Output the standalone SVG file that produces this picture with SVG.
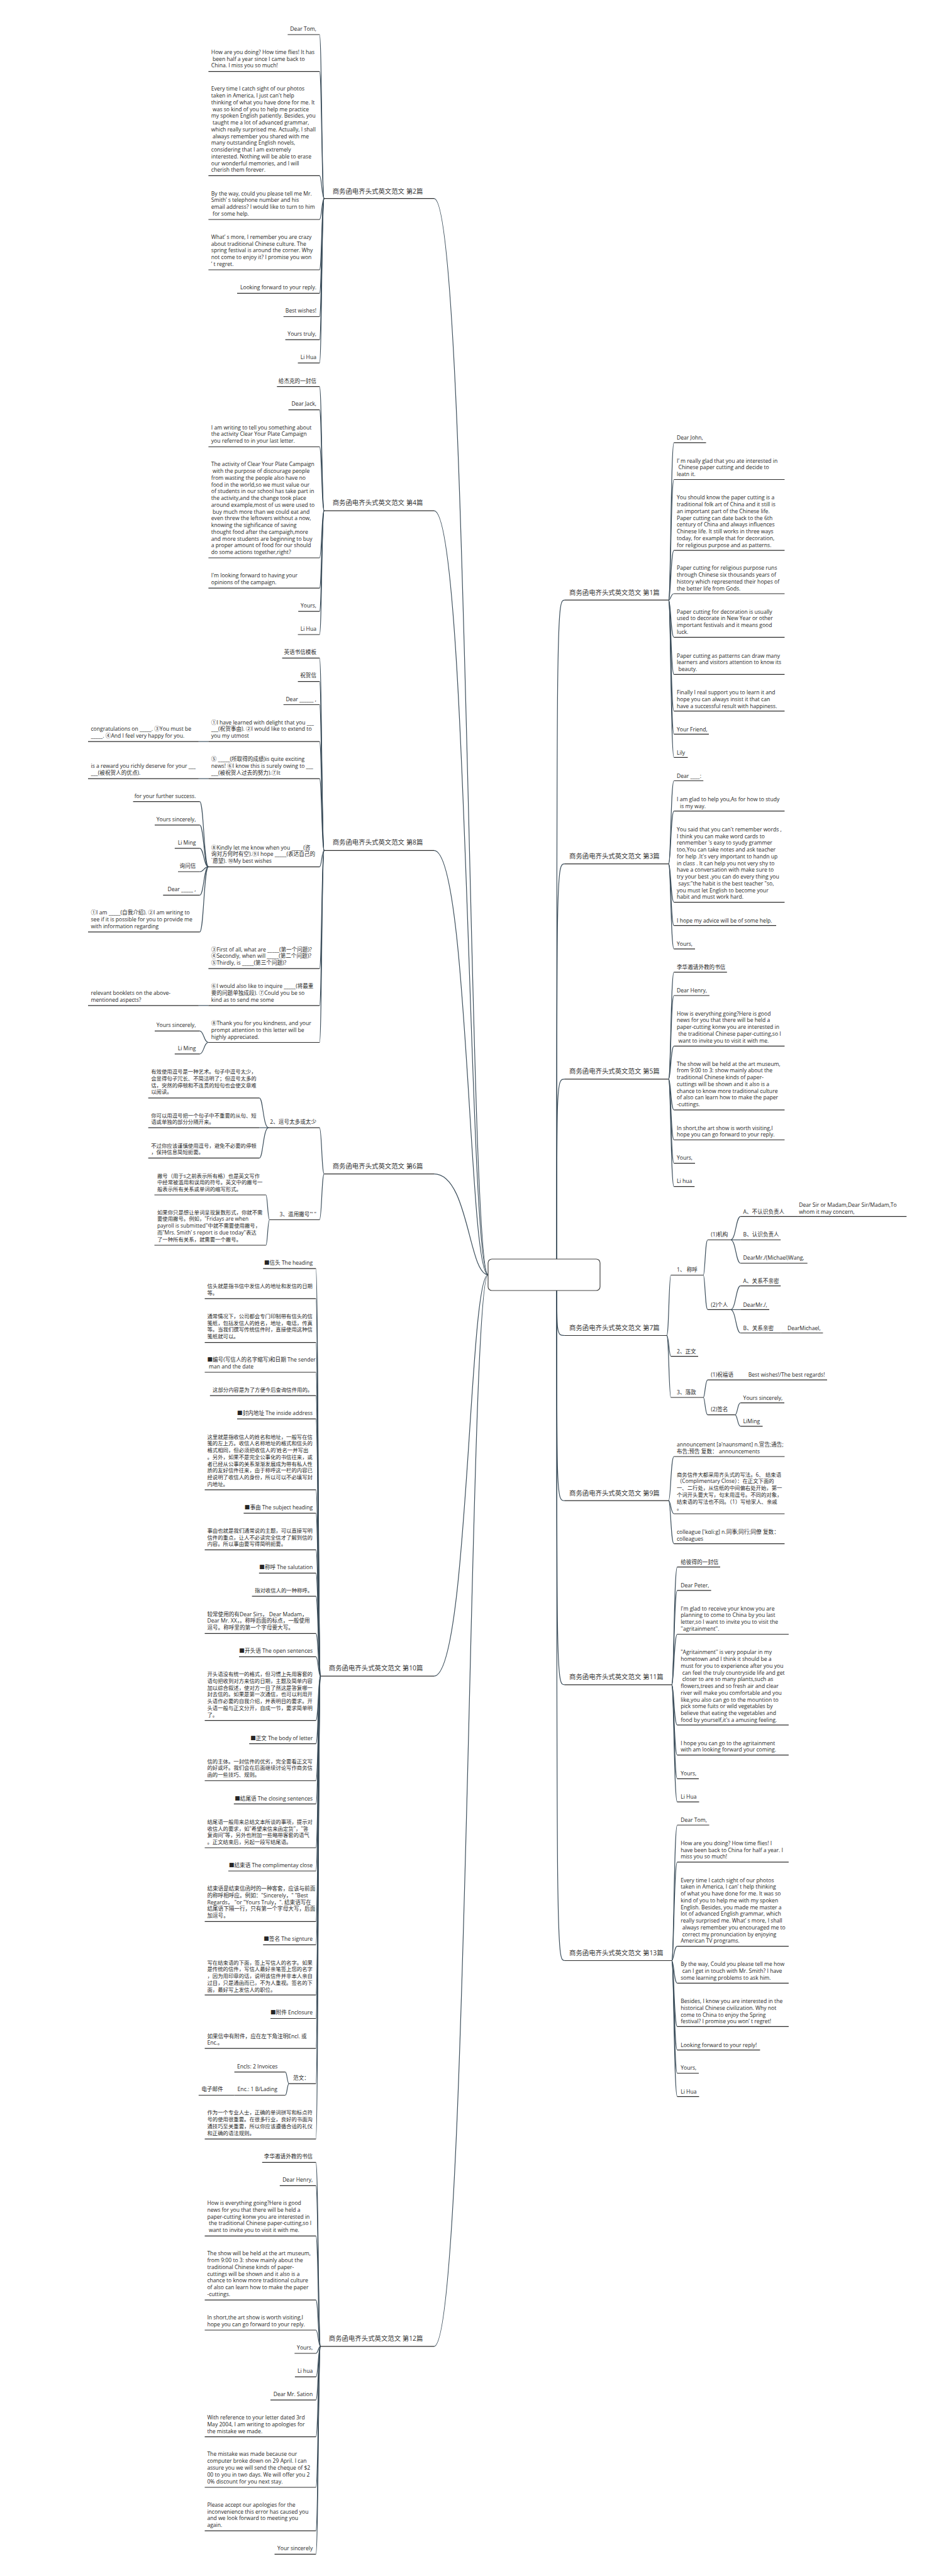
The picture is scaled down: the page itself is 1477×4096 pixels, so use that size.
<svg xmlns="http://www.w3.org/2000/svg" width="1477" height="4096" viewBox="0 0 1477 4096">
<style>
text{font-family:"Open Sans","Noto Sans CJK SC",sans-serif;font-size:8.6px;fill:#262626}
.z{font-size:8.4px}
.e{text-anchor:end}
.lb{font-size:10.4px;fill:#333}
.u{stroke:#2a2a2a;stroke-width:1.2;fill:none}
#connectors path{stroke:#3d4f5c;stroke-width:1.2;fill:none}
</style>
<rect width="1477" height="4096" fill="#fff"/>
<g id="connectors">
<path d="M776,2027C745,2027 745,315.7 690,315.7"/>
<path d="M776,2027C745,2027 745,812.2 690,812.2"/>
<path d="M776,2027C745,2027 745,1352.4 690,1352.4"/>
<path d="M776,2027C745,2027 745,1866.6 690,1866.6"/>
<path d="M776,2027C745,2027 745,2665.1 690,2665.1"/>
<path d="M776,2027C745,2027 745,3730.9 690,3730.9"/>
<path d="M885,2027C885,954.1 885,954.1 898,954.1"/>
<path d="M885,2027C885,1373.7 885,1373.7 898,1373.7"/>
<path d="M885,2027C885,1715.8 885,1715.8 898,1715.8"/>
<path d="M885,2027C885,2123.5 885,2123.5 898,2123.5"/>
<path d="M885,2027C885,2386.2 885,2386.2 898,2386.2"/>
<path d="M885,2027C885,2678.9 885,2678.9 898,2678.9"/>
<path d="M885,2027C885,3117.5 885,3117.5 898,3117.5"/>
<!-- 2 -->
<path d="M515.4,315.7C511.5,315.7 511.5,55 508,55"/>
<path d="M515.4,315.7C511.5,315.7 511.5,113.7 508,113.7"/>
<path d="M515.4,315.7C511.5,315.7 511.5,279.4 508,279.4"/>
<path d="M515.4,315.7C511.5,315.7 511.5,349 508,349"/>
<path d="M515.4,315.7C511.5,315.7 511.5,429 508,429"/>
<path d="M515.4,315.7C511.5,315.7 511.5,466.3 508,466.3"/>
<path d="M515.4,315.7C511.5,315.7 511.5,503.5 508,503.5"/>
<path d="M515.4,315.7C511.5,315.7 511.5,540.2 508,540.2"/>
<path d="M515.4,315.7C511.5,315.7 511.5,577.1 508,577.1"/>
<!-- 4 -->
<path d="M515.4,812.2C511.5,812.2 511.5,614.7 508,614.7"/>
<path d="M515.4,812.2C511.5,812.2 511.5,651.6 508,651.6"/>
<path d="M515.4,812.2C511.5,812.2 511.5,710.5 508,710.5"/>
<path d="M515.4,812.2C511.5,812.2 511.5,887 508,887"/>
<path d="M515.4,812.2C511.5,812.2 511.5,935.2 508,935.2"/>
<path d="M515.4,812.2C511.5,812.2 511.5,972.1 508,972.1"/>
<path d="M515.4,812.2C511.5,812.2 511.5,1009 508,1009"/>
<!-- 8 -->
<path d="M515.4,1352.4C511.5,1352.4 511.5,1046.4 508,1046.4"/>
<path d="M515.4,1352.4C511.5,1352.4 511.5,1083.6 508,1083.6"/>
<path d="M515.4,1352.4C511.5,1352.4 511.5,1120.5 508,1120.5"/>
<path d="M515.4,1352.4C511.5,1352.4 511.5,1179.1 508,1179.1"/>
<path d="M515.4,1352.4C511.5,1352.4 511.5,1238.1 508,1238.1"/>
<path d="M515.4,1352.4C511.5,1352.4 511.5,1378.3 508,1378.3"/>
<path d="M515.4,1352.4C511.5,1352.4 511.5,1540.2 508,1540.2"/>
<path d="M515.4,1352.4C511.5,1352.4 511.5,1598.8 508,1598.8"/>
<path d="M515.4,1352.4C511.5,1352.4 511.5,1657.5 508,1657.5"/>
<path d="M331.4,1179.1H315.8"/>
<path d="M331.4,1238.1H315.8"/>
<path d="M331.4,1598.8H315.8"/>
<path d="M331.4,1378.3C324.1,1378.3 324.1,1274.6 317.6,1274.6"/>
<path d="M331.4,1378.3C324.1,1378.3 324.1,1311.9 317.6,1311.9"/>
<path d="M331.4,1378.3C324.1,1378.3 324.1,1348.8 317.6,1348.8"/>
<path d="M331.4,1378.3C324.1,1378.3 324.1,1386 317.6,1386"/>
<path d="M331.4,1378.3C324.1,1378.3 324.1,1423.3 317.6,1423.3"/>
<path d="M331.4,1378.3C324.1,1378.3 324.1,1481.9 317.6,1481.9"/>
<path d="M331.4,1657.5C324.1,1657.5 324.1,1639.3 317.6,1639.3"/>
<path d="M331.4,1657.5C324.1,1657.5 324.1,1675.9 317.6,1675.9"/>
<!-- 6 -->
<path d="M515.4,1866.6C511.5,1866.6 511.5,1793.1 508,1793.1"/>
<path d="M515.4,1866.6C511.5,1866.6 511.5,1939.5 508,1939.5"/>
<path d="M427,1793.1C418.3,1793.1 418.3,1745.8 412.4,1745.8"/>
<path d="M427,1793.1H412.4"/>
<path d="M427,1793.1C418.3,1793.1 418.3,1841.4 412.4,1841.4"/>
<path d="M428.6,1939.5C425.5,1939.5 425.5,1900 422.7,1900"/>
<path d="M428.6,1939.5C425.5,1939.5 425.5,1980 422.7,1980"/>
<!-- 10 -->
<path d="M509.5,2665.1C506,2665.1 506,2017.2 502.2,2017.2"/>
<path d="M509.5,2665.1C506,2665.1 506,2064.8 502.2,2064.8"/>
<path d="M509.5,2665.1C506,2665.1 506,2134.7 502.2,2134.7"/>
<path d="M509.5,2665.1C506,2665.1 506,2182 502.2,2182"/>
<path d="M509.5,2665.1C506,2665.1 506,2219.2 502.2,2219.2"/>
<path d="M509.5,2665.1C506,2665.1 506,2256.1 502.2,2256.1"/>
<path d="M509.5,2665.1C506,2665.1 506,2368.8 502.2,2368.8"/>
<path d="M509.5,2665.1C506,2665.1 506,2406.1 502.2,2406.1"/>
<path d="M509.5,2665.1C506,2665.1 506,2464.3 502.2,2464.3"/>
<path d="M509.5,2665.1C506,2665.1 506,2501.3 502.2,2501.3"/>
<path d="M509.5,2665.1C506,2665.1 506,2538.2 502.2,2538.2"/>
<path d="M509.5,2665.1C506,2665.1 506,2597.4 502.2,2597.4"/>
<path d="M509.5,2665.1C506,2665.1 506,2634.3 502.2,2634.3"/>
<path d="M509.5,2665.1C506,2665.1 506,2735.7 502.2,2735.7"/>
<path d="M509.5,2665.1C506,2665.1 506,2772.6 502.2,2772.6"/>
<path d="M509.5,2665.1C506,2665.1 506,2831.5 502.2,2831.5"/>
<path d="M509.5,2665.1C506,2665.1 506,2868.4 502.2,2868.4"/>
<path d="M509.5,2665.1C506,2665.1 506,2938 502.2,2938"/>
<path d="M509.5,2665.1C506,2665.1 506,2975 502.2,2975"/>
<path d="M509.5,2665.1C506,2665.1 506,3055.3 502.2,3055.3"/>
<path d="M509.5,2665.1C506,2665.1 506,3092.3 502.2,3092.3"/>
<path d="M509.5,2665.1C506,2665.1 506,3172.2 502.2,3172.2"/>
<path d="M509.5,2665.1C506,2665.1 506,3209.5 502.2,3209.5"/>
<path d="M509.5,2665.1C506,2665.1 506,3257.1 502.2,3257.1"/>
<path d="M509.5,2665.1C506,2665.1 506,3313.1 502.2,3313.1"/>
<path d="M509.5,2665.1C506,2665.1 506,3401.2 502.2,3401.2"/>
<path d="M459.5,3313.1C456.5,3313.1 456.5,3294.6 453.6,3294.6"/>
<path d="M459.5,3313.1C456.5,3313.1 456.5,3331.5 453.6,3331.5"/>
<!-- 12 -->
<path d="M509.5,3730.9C506,3730.9 506,3438.4 502.2,3438.4"/>
<path d="M509.5,3730.9C506,3730.9 506,3475.3 502.2,3475.3"/>
<path d="M509.5,3730.9C506,3730.9 506,3555.3 502.2,3555.3"/>
<path d="M509.5,3730.9C506,3730.9 506,3657.1 502.2,3657.1"/>
<path d="M509.5,3730.9C506,3730.9 506,3705 502.2,3705"/>
<path d="M509.5,3730.9C506,3730.9 506,3742 502.2,3742"/>
<path d="M509.5,3730.9C506,3730.9 506,3779.4 502.2,3779.4"/>
<path d="M509.5,3730.9C506,3730.9 506,3816.1 502.2,3816.1"/>
<path d="M509.5,3730.9C506,3730.9 506,3874.6 502.2,3874.6"/>
<path d="M509.5,3730.9C506,3730.9 506,3955 502.2,3955"/>
<path d="M509.5,3730.9C506,3730.9 506,4024.2 502.2,4024.2"/>
<path d="M509.5,3730.9C506,3730.9 506,4061.3 502.2,4061.3"/>
<!-- R1 -->
<path d="M1063,954.1C1066.5,954.1 1066.5,703.8 1071.5,703.8"/>
<path d="M1063,954.1C1066.5,954.1 1066.5,762.5 1071.5,762.5"/>
<path d="M1063,954.1C1066.5,954.1 1066.5,875.1 1071.5,875.1"/>
<path d="M1063,954.1C1066.5,954.1 1066.5,944 1071.5,944"/>
<path d="M1063,954.1C1066.5,954.1 1066.5,1013.3 1071.5,1013.3"/>
<path d="M1063,954.1C1066.5,954.1 1066.5,1072.4 1071.5,1072.4"/>
<path d="M1063,954.1C1066.5,954.1 1066.5,1130.7 1071.5,1130.7"/>
<path d="M1063,954.1C1066.5,954.1 1066.5,1167.4 1071.5,1167.4"/>
<path d="M1063,954.1C1066.5,954.1 1066.5,1204.4 1071.5,1204.4"/>
<!-- R3 -->
<path d="M1063,1373.7C1066.5,1373.7 1066.5,1241.5 1071.5,1241.5"/>
<path d="M1063,1373.7C1066.5,1373.7 1066.5,1289.6 1071.5,1289.6"/>
<path d="M1063,1373.7C1066.5,1373.7 1066.5,1434.6 1071.5,1434.6"/>
<path d="M1063,1373.7C1066.5,1373.7 1066.5,1471.7 1071.5,1471.7"/>
<path d="M1063,1373.7C1066.5,1373.7 1066.5,1508.8 1071.5,1508.8"/>
<!-- R5 -->
<path d="M1063,1715.8C1066.5,1715.8 1066.5,1545.8 1071.5,1545.8"/>
<path d="M1063,1715.8C1066.5,1715.8 1066.5,1583 1071.5,1583"/>
<path d="M1063,1715.8C1066.5,1715.8 1066.5,1663.3 1071.5,1663.3"/>
<path d="M1063,1715.8C1066.5,1715.8 1066.5,1764.8 1071.5,1764.8"/>
<path d="M1063,1715.8C1066.5,1715.8 1066.5,1812.5 1071.5,1812.5"/>
<path d="M1063,1715.8C1066.5,1715.8 1066.5,1849.6 1071.5,1849.6"/>
<path d="M1063,1715.8C1066.5,1715.8 1066.5,1886.7 1071.5,1886.7"/>
<!-- R7 -->
<path d="M1060,2123.5C1063.5,2123.5 1063.5,2027.5 1066.6,2027.5"/>
<path d="M1060,2123.5C1063.5,2123.5 1063.5,2156.6 1066.6,2156.6"/>
<path d="M1060,2123.5C1063.5,2123.5 1063.5,2222 1066.6,2222"/>
<path d="M1118.2,2027.5C1121,2027.5 1121,1971.5 1125.2,1971.5"/>
<path d="M1118.2,2027.5C1121,2027.5 1121,2082.4 1125.2,2082.4"/>
<path d="M1161.5,1971.5C1170,1971.5 1170,1934.4 1177.3,1934.4"/>
<path d="M1161.5,1971.5H1177.3"/>
<path d="M1161.5,1971.5C1170,1971.5 1170,2008.5 1177.3,2008.5"/>
<path d="M1161.5,2082.4C1170,2082.4 1170,2044.7 1177.3,2044.7"/>
<path d="M1161.5,2082.4H1177.3"/>
<path d="M1161.5,2082.4C1170,2082.4 1170,2119.5 1177.3,2119.5"/>
<path d="M1118.2,2222C1121,2222 1121,2194.1 1125.2,2194.1"/>
<path d="M1118.2,2222C1121,2222 1121,2249.7 1125.2,2249.7"/>
<path d="M1168.7,2249.7C1172.5,2249.7 1172.5,2230.7 1177.3,2230.7"/>
<path d="M1168.7,2249.7C1172.5,2249.7 1172.5,2267.8 1177.3,2267.8"/>
<!-- R9 -->
<path d="M1063,2386.2C1066.5,2386.2 1066.5,2316 1071.5,2316"/>
<path d="M1063,2386.2C1066.5,2386.2 1066.5,2407 1071.5,2407"/>
<path d="M1063,2386.2C1066.5,2386.2 1066.5,2454.6 1071.5,2454.6"/>
<!-- R11 -->
<path d="M1068,2678.9C1071.5,2678.9 1071.5,2491.7 1076.8,2491.7"/>
<path d="M1068,2678.9C1071.5,2678.9 1071.5,2528.8 1076.8,2528.8"/>
<path d="M1068,2678.9C1071.5,2678.9 1071.5,2598.5 1076.8,2598.5"/>
<path d="M1068,2678.9C1071.5,2678.9 1071.5,2742.9 1076.8,2742.9"/>
<path d="M1068,2678.9C1071.5,2678.9 1071.5,2790.7 1076.8,2790.7"/>
<path d="M1068,2678.9C1071.5,2678.9 1071.5,2828.4 1076.8,2828.4"/>
<path d="M1068,2678.9C1071.5,2678.9 1071.5,2865.2 1076.8,2865.2"/>
<!-- R13 -->
<path d="M1068,3117.5C1071.5,3117.5 1071.5,2902 1076.8,2902"/>
<path d="M1068,3117.5C1071.5,3117.5 1071.5,2960.9 1076.8,2960.9"/>
<path d="M1068,3117.5C1071.5,3117.5 1071.5,3094.6 1076.8,3094.6"/>
<path d="M1068,3117.5C1071.5,3117.5 1071.5,3153.4 1076.8,3153.4"/>
<path d="M1068,3117.5C1071.5,3117.5 1071.5,3222.4 1076.8,3222.4"/>
<path d="M1068,3117.5C1071.5,3117.5 1071.5,3259.6 1076.8,3259.6"/>
<path d="M1068,3117.5C1071.5,3117.5 1071.5,3296.5 1076.8,3296.5"/>
<path d="M1068,3117.5C1071.5,3117.5 1071.5,3333.7 1076.8,3333.7"/>
</g>

<g id="center"><rect x="776" y="2002" width="178" height="50" rx="6" fill="#fff" stroke="#444" stroke-width="1.2"/></g>

<!-- Branch labels -->
<g id="b2"><text class="lb" x="528.7" y="307.6">商务函电齐头式英文范文 第2篇</text><path class="u" d="M515.4,315.7H690"/></g>
<g id="b4"><text class="lb" x="528.7" y="803.1">商务函电齐头式英文范文 第4篇</text><path class="u" d="M515.4,812.2H690"/></g>
<g id="b8"><text class="lb" x="528.7" y="1342.6">商务函电齐头式英文范文 第8篇</text><path class="u" d="M515.4,1352.4H690"/></g>
<g id="b6"><text class="lb" x="528.7" y="1857.6">商务函电齐头式英文范文 第6篇</text><path class="u" d="M515.4,1866.6H690"/></g>
<g id="b10"><text class="lb" x="522.8" y="2656">商务函电齐头式英文范文 第10篇</text><path class="u" d="M509.5,2665.1H690"/></g>
<g id="b12"><text class="lb" x="522.8" y="3722.3">商务函电齐头式英文范文 第12篇</text><path class="u" d="M509.5,3730.9H690"/></g>
<g id="b1"><text class="lb" x="905" y="945.6">商务函电齐头式英文范文 第1篇</text><path class="u" d="M898,954.1H1063"/></g>
<g id="b3"><text class="lb" x="905" y="1365.2">商务函电齐头式英文范文 第3篇</text><path class="u" d="M898,1373.7H1063"/></g>
<g id="b5"><text class="lb" x="905" y="1707.3">商务函电齐头式英文范文 第5篇</text><path class="u" d="M898,1715.8H1063"/></g>
<g id="b7"><text class="lb" x="905" y="2115">商务函电齐头式英文范文 第7篇</text><path class="u" d="M898,2123.5H1060"/></g>
<g id="b9"><text class="lb" x="905" y="2377.7">商务函电齐头式英文范文 第9篇</text><path class="u" d="M898,2386.2H1063"/></g>
<g id="b11"><text class="lb" x="905" y="2670.4">商务函电齐头式英文范文 第11篇</text><path class="u" d="M898,2678.9H1068"/></g>
<g id="b13"><text class="lb" x="905" y="3109">商务函电齐头式英文范文 第13篇</text><path class="u" d="M898,3117.5H1068"/></g>

<!-- 第2篇 -->
<g id="n2a"><text class="e" x="503" y="48.6">Dear Tom,</text><path class="u" d="M457.4,55H508"/></g>
<g id="n2b"><text x="335.8" y="85.8"><tspan x="335.8">How are you doing? How time flies! It has</tspan><tspan x="338" dy="10.75">been half a year since I came back to</tspan><tspan x="335.8" dy="10.75">China. I miss you so much!</tspan></text><path class="u" d="M331.4,113.7H508"/></g>
<g id="n2c"><text x="335.8" y="144.4"><tspan x="335.8">Every time I catch sight of our photos</tspan><tspan x="335.8" dy="10.75">taken in America, I just can't help</tspan><tspan x="335.8" dy="10.75">thinking of what you have done for me. It</tspan><tspan x="338" dy="10.75">was so kind of you to help me practice</tspan><tspan x="335.8" dy="10.75">my spoken English patiently. Besides, you</tspan><tspan x="338" dy="10.75">taught me a lot of advanced grammar,</tspan><tspan x="335.8" dy="10.75">which really surprised me. Actually, I shall</tspan><tspan x="338" dy="10.75">always remember you shared with me</tspan><tspan x="335.8" dy="10.75">many outstanding English novels,</tspan><tspan x="335.8" dy="10.75">considering that I am extremely</tspan><tspan x="335.8" dy="10.75">interested. Nothing will be able to erase</tspan><tspan x="335.8" dy="10.75">our wonderful memories, and I will</tspan><tspan x="335.8" dy="10.75">cherish them forever.</tspan></text><path class="u" d="M331.4,279.4H508"/></g>
<g id="n2d"><text x="335.8" y="310.5"><tspan x="335.8">By the way, could you please tell me Mr.</tspan><tspan x="335.8" dy="10.75">Smith’ s telephone number and his</tspan><tspan x="335.8" dy="10.75">email address? I would like to turn to him</tspan><tspan x="338" dy="10.75">for some help.</tspan></text><path class="u" d="M331.4,349H508"/></g>
<g id="n2e"><text x="335.8" y="379.8"><tspan x="335.8">What’ s more, I remember you are crazy</tspan><tspan x="335.8" dy="10.75">about traditional Chinese culture. The</tspan><tspan x="335.8" dy="10.75">spring festival is around the corner. Why</tspan><tspan x="335.8" dy="10.75">not come to enjoy it? I promise you won</tspan><tspan x="335.8" dy="10.75">’ t regret.</tspan></text><path class="u" d="M331.4,429H508"/></g>
<g id="n2f"><text class="e" x="503" y="460.1">Looking forward to your reply.</text><path class="u" d="M377,466.3H508"/></g>
<g id="n2g"><text class="e" x="503" y="497">Best wishes!</text><path class="u" d="M450.7,503.5H508"/></g>
<g id="n2h"><text class="e" x="503" y="534.4">Yours truly,</text><path class="u" d="M453.6,540.2H508"/></g>
<g id="n2i"><text class="e" x="503" y="571.3">Li Hua</text><path class="u" d="M473.6,577.1H508"/></g>

<!-- 第4篇 -->
<g id="n4a"><text class="e" x="503" y="608.5">给杰克的一封信</text><path class="u" d="M440.3,614.7H508"/></g>
<g id="n4b"><text class="e" x="503" y="645.4">Dear Jack,</text><path class="u" d="M458.6,651.6H508"/></g>
<g id="n4c"><text x="335.8" y="682.7"><tspan x="335.8">I am writing to tell you something about</tspan><tspan x="335.8" dy="10.75">the activity Clear Your Plate Campaign</tspan><tspan x="335.8" dy="10.75">you referred to in your last letter.</tspan></text><path class="u" d="M331.4,710.5H508"/></g>
<g id="n4d"><text x="335.8" y="741.3"><tspan x="335.8">The activity of Clear Your Plate Campaign</tspan><tspan x="338" dy="10.75">with the purpose of discourage people</tspan><tspan x="335.8" dy="10.75">from wasting the  people also have no</tspan><tspan x="335.8" dy="10.75">food in the world,so we must value our</tspan><tspan x="335.8" dy="10.75">of students in our school has take part in</tspan><tspan x="335.8" dy="10.75">the activity,and the change took place</tspan><tspan x="335.8" dy="10.75">around  example,most of us were used to</tspan><tspan x="338" dy="10.75">buy much more than we could eat and</tspan><tspan x="335.8" dy="10.75">even threw the leftovers without a  now,</tspan><tspan x="335.8" dy="10.75">knowing the sighificance of saving</tspan><tspan x="335.8" dy="10.75">thought food after the campaigh,more</tspan><tspan x="335.8" dy="10.75">and more students are beginning to buy</tspan><tspan x="335.8" dy="10.75">a proper amount of food for our  should</tspan><tspan x="335.8" dy="10.75">do some actions together,right?</tspan></text><path class="u" d="M331.4,887H508"/></g>
<g id="n4e"><text x="335.8" y="918.1"><tspan x="335.8">I'm looking forward to having your</tspan><tspan x="335.8" dy="10.75">opinions of the campaign.</tspan></text><path class="u" d="M331.4,935.2H508"/></g>
<g id="n4f"><text class="e" x="503" y="966.3">Yours,</text><path class="u" d="M474.2,972.1H508"/></g>
<g id="n4g"><text class="e" x="503" y="1002.9">Li Hua</text><path class="u" d="M473.6,1009H508"/></g>

<!-- 第8篇 -->
<g id="n8a"><text class="e" x="503" y="1040.2">英语书信模板</text><path class="u" d="M448.6,1046.4H508"/></g>
<g id="n8b"><text class="e" x="503" y="1077.4">祝贺信</text><path class="u" d="M473.6,1083.6H508"/></g>
<g id="n8c"><text class="e" x="503" y="1114.7">Dear ______ ,</text><path class="u" d="M450.7,1120.5H508"/></g>
<g id="n8d"><text x="335.8" y="1151.6"><tspan x="335.8">①I have learned with delight that you ___</tspan><tspan x="335.8" dy="10.75">___(祝贺事由). ②I would like to extend to</tspan><tspan x="335.8" dy="10.75">you my utmost</tspan></text><path class="u" d="M331.4,1179.1H508"/></g>
<g id="n8d1"><text x="144.5" y="1162.3"><tspan x="144.5">congratulations on _____. ③You must be</tspan><tspan x="144.5" dy="10.75">_____. ④And I feel very happy for you.</tspan></text><path class="u" d="M140,1179.1H315.8"/></g>
<g id="n8e"><text x="335.8" y="1210.2"><tspan x="335.8">⑤ _____(所取得的成绩)is quite exciting</tspan><tspan x="335.8" dy="10.75">news! ⑥I know this is surely owing to ___</tspan><tspan x="335.8" dy="10.75">___(被祝贺人过去的努力).⑦It</tspan></text><path class="u" d="M331.4,1238.1H508"/></g>
<g id="n8e1"><text x="144.5" y="1220.9"><tspan x="144.5">is a reward you richly deserve for your ___</tspan><tspan x="144.5" dy="10.75">___(被祝贺人的优点).</tspan></text><path class="u" d="M140,1238.1H315.8"/></g>
<g id="n8f"><text x="335.8" y="1350.7"><tspan x="335.8">⑧Kindly let me know when you _____(咨</tspan><tspan x="335.8" dy="10.75">询对方何时有空).⑨I hope _____(表达自己的</tspan><tspan x="335.8" dy="10.75">`愿望). ⑩My best wishes</tspan></text><path class="u" d="M331.4,1378.3H508"/></g>
<g id="n8f1"><text class="e" x="311.4" y="1268.8">for your further success.</text><path class="u" d="M211.6,1274.6H317.6"/></g>
<g id="n8f2"><text class="e" x="311.4" y="1305.7">Yours sincerely,</text><path class="u" d="M246,1311.9H317.6"/></g>
<g id="n8f3"><text class="e" x="311.4" y="1343">Li Ming</text><path class="u" d="M277.8,1348.8H317.6"/></g>
<g id="n8f4"><text class="e" x="311.4" y="1380.2">询问信</text><path class="u" d="M283,1386H317.6"/></g>
<g id="n8f5"><text class="e" x="311.4" y="1417.1">Dear _____ ,</text><path class="u" d="M259.3,1423.3H317.6"/></g>
<g id="n8f6"><text x="144.5" y="1454.3"><tspan x="144.5">①I am _____(自我介绍). ②I am writing to</tspan><tspan x="144.5" dy="10.75">see if it is possible for you to provide me</tspan><tspan x="144.5" dy="10.75">with information regarding</tspan></text><path class="u" d="M140,1481.9H317.6"/></g>
<g id="n8g"><text x="335.8" y="1512.6"><tspan x="335.8">③First of all, what are _____(第一个问题)?</tspan><tspan x="335.8" dy="10.75">④Secondly, when will _____(第二个问题)?</tspan><tspan x="335.8" dy="10.75">⑤Thirdly, is _____(第三个问题)?</tspan></text><path class="u" d="M331.4,1540.2H508"/></g>
<g id="n8h"><text x="335.8" y="1571.3"><tspan x="335.8">⑥I would also like to inquire _____(将最重</tspan><tspan x="335.8" dy="10.75">要的问题单独成段). ⑦Could you be so</tspan><tspan x="335.8" dy="10.75">kind as to send me some</tspan></text><path class="u" d="M331.4,1598.8H508"/></g>
<g id="n8h1"><text x="144.5" y="1582"><tspan x="144.5">relevant booklets on the above-</tspan><tspan x="144.5" dy="10.75">mentioned aspects?</tspan></text><path class="u" d="M140,1598.8H315.8"/></g>
<g id="n8i"><text x="335.8" y="1630"><tspan x="335.8">⑧Thank you for you kindness, and your</tspan><tspan x="335.8" dy="10.75">prompt attention to this letter will be</tspan><tspan x="335.8" dy="10.75">highly appreciated.</tspan></text><path class="u" d="M331.4,1657.5H508"/></g>
<g id="n8i1"><text class="e" x="311.4" y="1633.2">Yours sincerely,</text><path class="u" d="M246,1639.3H317.6"/></g>
<g id="n8i2"><text class="e" x="311.4" y="1670.1">Li Ming</text><path class="u" d="M277.8,1675.9H317.6"/></g>

<!-- 第6篇 -->
<g id="n6a"><text class="e" x="503" y="1787.3">2、逗号太多或太少</text><path class="u" d="M427,1793.1H508"/></g>
<g id="n6a1"><text class="z" x="240.2" y="1707"><tspan x="240.2">有效使用逗号是一种艺术。句子中逗号太少，</tspan><tspan x="240.2" dy="10.75">会显得句子冗长、不简洁明了；但逗号太多的</tspan><tspan x="240.2" dy="10.75">话，突然的停顿和不连贯的短句也会使文章难</tspan><tspan x="240.2" dy="10.75">以阅读。</tspan></text><path class="u" d="M235.7,1745.8H412.4"/></g>
<g id="n6a2"><text class="z" x="240.2" y="1776.6"><tspan x="240.2">你可以用逗号把一个句子中不重要的从句、短</tspan><tspan x="240.2" dy="10.75">语或单独的部分分隔开来。</tspan></text><path class="u" d="M235.7,1793.1H412.4"/></g>
<g id="n6a3"><text class="z" x="240.2" y="1824.5"><tspan x="240.2">不过你应该谨慎使用逗号，避免不必要的停顿</tspan><tspan x="240.2" dy="10.75">，保持信息简短扼要。</tspan></text><path class="u" d="M235.7,1841.4H412.4"/></g>
<g id="n6b"><text class="e" x="503" y="1933.7">3、滥用撇号"‘  "</text><path class="u" d="M428.6,1939.5H508"/></g>
<g id="n6b1"><text class="z" x="249.9" y="1872.5"><tspan x="249.9">撇号（用于s之前表示所有格）也是英文写作</tspan><tspan x="249.9" dy="10.75">中经常被滥用和误用的符号。英文中的撇号一</tspan><tspan x="249.9" dy="10.75">般表示所有关系或单词的缩写形式。</tspan></text><path class="u" d="M245.5,1900H422.7"/></g>
<g id="n6b2"><text class="z" x="249.9" y="1930.7"><tspan x="249.9">如果你只是想让单词呈现复数形式，你就不需</tspan><tspan x="249.9" dy="10.75">要使用撇号。例如，"Fridays are when</tspan><tspan x="249.9" dy="10.75">payroll is submitted"中就不需要使用撇号，</tspan><tspan x="249.9" dy="10.75">而"Mrs. Smith’ s report is due today"表达</tspan><tspan x="249.9" dy="10.75">了一种所有关系，就需要一个撇号。</tspan></text><path class="u" d="M245.5,1980H422.7"/></g>

<!-- 第10篇 -->
<g id="n10a"><text class="e" x="497.2" y="2010.7">■信头 The heading</text><path class="u" d="M418.3,2017.2H502.2"/></g>
<g id="n10b"><text class="z" x="329.4" y="2047.9"><tspan x="329.4">信头就是指书信中发信人的地址和发信的日期</tspan><tspan x="329.4" dy="10.75">等。</tspan></text><path class="u" d="M325.5,2064.8H502.2"/></g>
<g id="n10c"><text class="z" x="329.4" y="2095.9"><tspan x="329.4">通常情况下，公司都会专门印制带有信头的信</tspan><tspan x="329.4" dy="10.75">笺纸，包括发信人的姓名，地址，电话，传真</tspan><tspan x="329.4" dy="10.75">等。当我们撰写传统信件时，直接使用这种信</tspan><tspan x="329.4" dy="10.75">笺纸就可以。</tspan></text><path class="u" d="M325.5,2134.7H502.2"/></g>
<g id="n10d"><text x="329.4" y="2165.2"><tspan x="329.4">■编号(写信人的名字缩写)和日期 The sender</tspan><tspan x="332" dy="10.75">man and the date</tspan></text><path class="u" d="M325.5,2182H502.2"/></g>
<g id="n10e"><text class="e z" x="497.2" y="2213.1">这部分内容是为了方便今后查询信件用的。</text><path class="u" d="M333.8,2219.2H502.2"/></g>
<g id="n10f"><text class="e" x="497.2" y="2250">■封内地址 The inside address</text><path class="u" d="M377,2256.1H502.2"/></g>
<g id="n10g"><text class="z" x="329.4" y="2287.6"><tspan x="329.4">这里就是指收信人的姓名和地址，一般写在信</tspan><tspan x="329.4" dy="10.75">笺的左上方。收信人名称地址的格式和信头的</tspan><tspan x="329.4" dy="10.75">格式相同，但必须把收信人的'姓名一并写出</tspan><tspan x="329.4" dy="10.75">。另外，如果不是完全公事化的书信往来，或</tspan><tspan x="329.4" dy="10.75">者已经从公事的关系渐渐发展成为带有私人性</tspan><tspan x="329.4" dy="10.75">质的友好信件往来，由于称呼这一栏的内容已</tspan><tspan x="329.4" dy="10.75">经说明了收信人的身份，所以可以不必填写封</tspan><tspan x="329.4" dy="10.75">内地址。</tspan></text><path class="u" d="M325.5,2368.8H502.2"/></g>
<g id="n10h"><text class="e" x="497.2" y="2399.6">■事由 The subject heading</text><path class="u" d="M387.4,2406.1H502.2"/></g>
<g id="n10i"><text class="z" x="329.4" y="2436.8"><tspan x="329.4">事由也就是我们通常说的主题，可以直接写明</tspan><tspan x="329.4" dy="10.75">信件的重点，让人不必读完全信才了解到信的</tspan><tspan x="329.4" dy="10.75">内容。所以事由要写得简明扼要。</tspan></text><path class="u" d="M325.5,2464.3H502.2"/></g>
<g id="n10j"><text class="e" x="497.2" y="2495.1">■称呼 The salutation</text><path class="u" d="M411.8,2501.3H502.2"/></g>
<g id="n10k"><text class="e z" x="497.2" y="2532">指对收信人的一种称呼。</text><path class="u" d="M400.6,2538.2H502.2"/></g>
<g id="n10l"><text x="329.4" y="2569.6"><tspan x="329.4">较常使用的有Dear Sirs， Dear Madam，</tspan><tspan x="329.4" dy="10.75">Dear Mr. XX，。称呼后面的标点，一般使用</tspan><tspan x="329.4" dy="10.75">逗号。称呼里的第一个字母要大写。</tspan></text><path class="u" d="M325.5,2597.4H502.2"/></g>
<g id="n10m"><text class="e" x="497.2" y="2627.8">■开头语 The open sentences</text><path class="u" d="M380,2634.3H502.2"/></g>
<g id="n10n"><text class="z" x="329.4" y="2665.1"><tspan x="329.4">开头语没有统一的格式，但习惯上先用客套的</tspan><tspan x="329.4" dy="10.75">语句把收到对方来信的日期，主题及简单内容</tspan><tspan x="329.4" dy="10.75">加以综合叙述，使对方一目了然这是答复哪一</tspan><tspan x="329.4" dy="10.75">封去信的。如果是第一次通信，也可以利用开</tspan><tspan x="329.4" dy="10.75">头语作必要的自我介绍，并表明目的要求。开</tspan><tspan x="329.4" dy="10.75">头语一般与正文分开，自成一节，要求简单明</tspan><tspan x="329.4" dy="10.75">了。</tspan></text><path class="u" d="M325.5,2735.7H502.2"/></g>
<g id="n10o"><text class="e" x="497.2" y="2766.8">■正文 The body of letter</text><path class="u" d="M396.2,2772.6H502.2"/></g>
<g id="n10p"><text class="z" x="329.4" y="2803.7"><tspan x="329.4">信的主体。一封信件的优劣，完全要看正文写</tspan><tspan x="329.4" dy="10.75">的好或坏。我们会在后面继续讨论写作商务信</tspan><tspan x="329.4" dy="10.75">函的一些技巧、规则。</tspan></text><path class="u" d="M325.5,2831.5H502.2"/></g>
<g id="n10q"><text class="e" x="497.2" y="2862.6">■结尾语 The closing sentences</text><path class="u" d="M371.8,2868.4H502.2"/></g>
<g id="n10r"><text class="z" x="329.4" y="2899.8"><tspan x="329.4">结尾语一般用来总结文本所谈的事项，提示对</tspan><tspan x="329.4" dy="10.75">收信人的要求，如"希望来信来函定货"，"答</tspan><tspan x="329.4" dy="10.75">复询问"等，另外也附加一些略带客套的语气</tspan><tspan x="329.4" dy="10.75">。正文结束后，另起一段写结尾语。</tspan></text><path class="u" d="M325.5,2938H502.2"/></g>
<g id="n10s"><text class="e" x="497.2" y="2968.8">■结束语 The complimentay close</text><path class="u" d="M363,2975H502.2"/></g>
<g id="n10t"><text x="329.4" y="3006"><tspan x="329.4">结束语是结束信函时的一种客套，应该与前面</tspan><tspan x="329.4" dy="10.75">的称呼相呼应。例如："Sincerely，" "Best</tspan><tspan x="329.4" dy="10.75">Regards， "or "Yours Truly，". 结束语写在</tspan><tspan x="329.4" dy="10.75">结尾语下隔一行，只有第一个字母大写，后面</tspan><tspan x="329.4" dy="10.75">加逗号。</tspan></text><path class="u" d="M325.5,3055.3H502.2"/></g>
<g id="n10u"><text class="e" x="497.2" y="3086.1">■签名 The signture</text><path class="u" d="M418.3,3092.3H502.2"/></g>
<g id="n10v"><text class="z" x="329.4" y="3123.7"><tspan x="329.4">写在结束语的下面，签上写信人的名字。如果</tspan><tspan x="329.4" dy="10.75">是传统的信件，写信人最好亲笔签上您的名字</tspan><tspan x="329.4" dy="10.75">，因为用印章的话，说明该信件并非本人亲自</tspan><tspan x="329.4" dy="10.75">过目，只是通函而已，不为人重视。签名的下</tspan><tspan x="329.4" dy="10.75">面，最好写上发信人的职位。</tspan></text><path class="u" d="M325.5,3172.2H502.2"/></g>
<g id="n10w"><text class="e" x="497.2" y="3203.3">■附件 Enclosure</text><path class="u" d="M430,3209.5H502.2"/></g>
<g id="n10x"><text x="329.4" y="3240.6"><tspan x="329.4">如果信中有附件，应在左下角注明Encl. 或</tspan><tspan x="329.4" dy="10.75">Enc.。</tspan></text><path class="u" d="M325.5,3257.1H502.2"/></g>
<g id="n10y"><text class="e" x="491.9" y="3307.3">范文：</text><path class="u" d="M459.5,3313.1H502.2"/></g>
<g id="n10y1"><text x="377" y="3288.5">Encls:   2 Invoices</text><path class="u" d="M372.6,3294.6H453.6"/></g>
<g id="n10y2"><text x="377.6" y="3325.4">Enc.:   1 B/Lading</text><path class="u" d="M372.6,3331.5H453.6"/></g>
<g id="n10y3"><text x="320.2" y="3325.4">电子邮件</text><path class="u" d="M315.8,3331.5H372.6"/></g>
<g id="n10z"><text class="z" x="329.4" y="3362.3"><tspan x="329.4">作为一个专业人士，正确的单词拼写和标点符</tspan><tspan x="329.4" dy="10.75">号的使用很重要。在很多行业，良好的书面沟</tspan><tspan x="329.4" dy="10.75">通技巧至关重要，所以你应该遵循合适的礼仪</tspan><tspan x="329.4" dy="10.75">和正确的语法规则。</tspan></text><path class="u" d="M325.5,3401.2H502.2"/></g>

<!-- 第12篇 -->
<g id="n12a"><text class="e" x="497.2" y="3431.9">李华邀请外教的书信</text><path class="u" d="M416.8,3438.4H502.2"/></g>
<g id="n12b"><text class="e" x="497.2" y="3468.8">Dear Henry,</text><path class="u" d="M444.8,3475.3H502.2"/></g>
<g id="n12c"><text x="329.4" y="3506.1"><tspan x="329.4">How is everything going?Here is good</tspan><tspan x="329.4" dy="10.75">news for you that there will be held a</tspan><tspan x="329.4" dy="10.75">paper-cutting  konw you are interested in</tspan><tspan x="332" dy="10.75">the traditional Chinese paper-cutting,so I</tspan><tspan x="332" dy="10.75">want to invite you to visit it with me.</tspan></text><path class="u" d="M325.5,3555.3H502.2"/></g>
<g id="n12d"><text x="329.4" y="3586.2"><tspan x="329.4">The show will be held at the art museum,</tspan><tspan x="329.4" dy="10.8">from 9:00 to 3: show mainly about the</tspan><tspan x="329.4" dy="10.8">traditional Chinese  kinds of paper-</tspan><tspan x="329.4" dy="10.8">cuttings will be shown and it also is a</tspan><tspan x="329.4" dy="10.8">chance to know more traditional culture</tspan><tspan x="329.4" dy="10.8">of  also can learn how to make the paper</tspan><tspan x="329.4" dy="10.8">-cuttings.</tspan></text><path class="u" d="M325.5,3657.1H502.2"/></g>
<g id="n12e"><text x="329.4" y="3688"><tspan x="329.4">In short,the art show is worth visiting,I</tspan><tspan x="329.4" dy="10.8">hope you can go  forward to your reply.</tspan></text><path class="u" d="M325.5,3705H502.2"/></g>
<g id="n12f"><text class="e" x="497.2" y="3735.8">Yours,</text><path class="u" d="M468.3,3742H502.2"/></g>
<g id="n12g"><text class="e" x="497.2" y="3772.8">Li hua</text><path class="u" d="M468.9,3779.4H502.2"/></g>
<g id="n12h"><text class="e" x="497.2" y="3809.9">Dear Mr. Sation</text><path class="u" d="M430,3816.1H502.2"/></g>
<g id="n12i"><text x="329.4" y="3847"><tspan x="329.4">With reference to your letter dated 3rd</tspan><tspan x="329.4" dy="10.8">May 2004, I am writing to apologies for</tspan><tspan x="329.4" dy="10.8">the mistake we made.</tspan></text><path class="u" d="M325.5,3874.6H502.2"/></g>
<g id="n12j"><text x="329.4" y="3905.4"><tspan x="329.4">The mistake was made because our</tspan><tspan x="329.4" dy="10.8">computer broke down on 29 April. I can</tspan><tspan x="329.4" dy="10.8">assure you we will send the cheque of $2</tspan><tspan x="329.4" dy="10.8">00 to you in two days. We will offer you 2</tspan><tspan x="329.4" dy="10.8">0% discount for you next stay.</tspan></text><path class="u" d="M325.5,3955H502.2"/></g>
<g id="n12k"><text x="329.4" y="3985.8"><tspan x="329.4">Please accept our apologies for the</tspan><tspan x="329.4" dy="10.8">inconvenience this error has caused you</tspan><tspan x="329.4" dy="10.8">and we look forward to meeting you</tspan><tspan x="329.4" dy="10.8">again.</tspan></text><path class="u" d="M325.5,4024.2H502.2"/></g>
<g id="n12l"><text class="e" x="497.2" y="4055">Your sincerely</text><path class="u" d="M436.5,4061.3H502.2"/></g>

<!-- 第1篇 -->
<g id="n1a"><text x="1076" y="698.5">Dear John,</text><path class="u" d="M1071.5,703.8H1122.5"/></g>
<g id="n1b"><text x="1076" y="735.6"><tspan x="1076">I’  m really glad that you ate interested in</tspan><tspan x="1078.5" dy="10.75">Chinese paper cutting and decide to</tspan><tspan x="1076" dy="10.75">leatn it.</tspan></text><path class="u" d="M1071.5,762.5H1247.4"/></g>
<g id="n1c"><text x="1076" y="794.3"><tspan x="1076">You should know the paper cutting is a</tspan><tspan x="1076" dy="10.75">traditional folk art of China and it still is</tspan><tspan x="1076" dy="10.75">an important part of the Chinese life.</tspan><tspan x="1076" dy="10.75">Paper cutting can date back to the 6th</tspan><tspan x="1076" dy="10.75">century of China and always influences</tspan><tspan x="1076" dy="10.75">Chinese life. It still works in three ways</tspan><tspan x="1076" dy="10.75">today, for example that for decoration,</tspan><tspan x="1076" dy="10.75">for religious purpose and as patterns.</tspan></text><path class="u" d="M1071.5,875.1H1247.4"/></g>
<g id="n1d"><text x="1076" y="906.4"><tspan x="1076">Paper cutting for religious purpose runs</tspan><tspan x="1076" dy="10.75">through Chinese six thousands years of</tspan><tspan x="1076" dy="10.75">history which represented their hopes of</tspan><tspan x="1076" dy="10.75">the better life from Gods.</tspan></text><path class="u" d="M1071.5,944H1247.4"/></g>
<g id="n1e"><text x="1076" y="975.7"><tspan x="1076">Paper cutting for decoration is usually</tspan><tspan x="1076" dy="10.75">used to decorate in New Year or other</tspan><tspan x="1076" dy="10.75">important festivals and it means good</tspan><tspan x="1076" dy="10.75">luck.</tspan></text><path class="u" d="M1071.5,1013.3H1247.4"/></g>
<g id="n1f"><text x="1076" y="1045.5"><tspan x="1076">Paper cutting as patterns can draw many</tspan><tspan x="1076" dy="10.75">learners and visitors attention to know its</tspan><tspan x="1078.5" dy="10.75">beauty.</tspan></text><path class="u" d="M1071.5,1072.4H1247.4"/></g>
<g id="n1g"><text x="1076" y="1104.2"><tspan x="1076">Finally I real support you to learn it and</tspan><tspan x="1076" dy="10.75">hope you can always insist it that can</tspan><tspan x="1076" dy="10.75">have a successful result with happiness.</tspan></text><path class="u" d="M1071.5,1130.7H1247.4"/></g>
<g id="n1h"><text x="1076" y="1162.5">Your Friend,</text><path class="u" d="M1071.5,1167.4H1127"/></g>
<g id="n1i"><text x="1076" y="1200">Lily</text><path class="u" d="M1071.5,1204.4H1093.5"/></g>

<!-- 第3篇 -->
<g id="n3a"><text x="1076" y="1237.1">Dear ____:</text><path class="u" d="M1071.5,1241.5H1118.2"/></g>
<g id="n3b"><text x="1076" y="1273.8"><tspan x="1076">I am glad to help you,As for how to study</tspan><tspan x="1081" dy="10.75">is my way.</tspan></text><path class="u" d="M1071.5,1289.6H1247.4"/></g>
<g id="n3c"><text x="1076" y="1321.9"><tspan x="1076">You said that you can't remember words ,</tspan><tspan x="1076" dy="10.75">I think you can make word cards to</tspan><tspan x="1076" dy="10.75">renmember 's easy to syudy grammer</tspan><tspan x="1076" dy="10.75">too,You can take notes and ask teacher</tspan><tspan x="1076" dy="10.75">for help .It's very important to handn up</tspan><tspan x="1076" dy="10.75">in class . It can help you not very shy to</tspan><tspan x="1076" dy="10.75">have a conversation with  make sure to</tspan><tspan x="1076" dy="10.75">try your best ,you can do every thing you</tspan><tspan x="1078.5" dy="10.75">says:"the habit is the best teacher "so,</tspan><tspan x="1076" dy="10.75">you must let English to become your</tspan><tspan x="1076" dy="10.75">habit and must work hard.</tspan></text><path class="u" d="M1071.5,1434.6H1247.4"/></g>
<g id="n3d"><text x="1076" y="1466.8">I hope my advice will be of some help.</text><path class="u" d="M1071.5,1471.7H1234"/></g>
<g id="n3e"><text x="1076" y="1503.9">Yours,</text><path class="u" d="M1071.5,1508.8H1105"/></g>

<!-- 第5篇 -->
<g id="n5a"><text x="1076" y="1540.5">李华邀请外教的书信</text><path class="u" d="M1071.5,1545.8H1155.8"/></g>
<g id="n5b"><text x="1076" y="1577.6">Dear Henry,</text><path class="u" d="M1071.5,1583H1128"/></g>
<g id="n5c"><text x="1076" y="1614.7"><tspan x="1076">How is everything going?Here is good</tspan><tspan x="1076" dy="10.75">news for you that there will be held a</tspan><tspan x="1076" dy="10.75">paper-cutting  konw you are interested in</tspan><tspan x="1078.5" dy="10.75">the traditional Chinese paper-cutting,so I</tspan><tspan x="1078.5" dy="10.75">want to invite you to visit it with me.</tspan></text><path class="u" d="M1071.5,1663.3H1247.4"/></g>
<g id="n5d"><text x="1076" y="1694.6"><tspan x="1076">The show will be held at the art museum,</tspan><tspan x="1076" dy="10.75">from 9:00 to 3: show mainly about the</tspan><tspan x="1076" dy="10.75">traditional Chinese  kinds of paper-</tspan><tspan x="1076" dy="10.75">cuttings will be shown and it also is a</tspan><tspan x="1076" dy="10.75">chance to know more traditional culture</tspan><tspan x="1076" dy="10.75">of  also can learn how to make the paper</tspan><tspan x="1076" dy="10.75">-cuttings.</tspan></text><path class="u" d="M1071.5,1764.8H1247.4"/></g>
<g id="n5e"><text x="1076" y="1796.6"><tspan x="1076">In short,the art show is worth visiting,I</tspan><tspan x="1076" dy="10.75">hope you can go  forward to your reply.</tspan></text><path class="u" d="M1071.5,1812.5H1247.4"/></g>
<g id="n5f"><text x="1076" y="1844.3">Yours,</text><path class="u" d="M1071.5,1849.6H1105"/></g>
<g id="n5g"><text x="1076" y="1881.4">Li hua</text><path class="u" d="M1071.5,1886.7H1104.3"/></g>

<!-- 第7篇 -->
<g id="n7a"><text x="1076" y="2022.2">1、 称呼</text><path class="u" d="M1066.6,2027.5H1118.2"/></g>
<g id="n7a1"><text x="1130.3" y="1966.2">(1)机构</text><path class="u" d="M1125.2,1971.5H1161.5"/></g>
<g id="n7a1a"><text x="1181.6" y="1929.5">A、不认识负责人</text><path class="u" d="M1177.3,1934.4H1268.1"/></g>
<g id="n7a1a1"><text x="1270.2" y="1918.5"><tspan x="1270.2">Dear Sir or Madam,Dear Sir/Madam,To</tspan><tspan x="1270.2" dy="11">whom it may concern,</tspan></text><path class="u" d="M1268.1,1934.4H1441.3"/></g>
<g id="n7a1b"><text x="1181.6" y="1966.2">B、认识负责人</text><path class="u" d="M1177.3,1971.5H1241.2"/></g>
<g id="n7a1c"><text x="1181.6" y="2003.2">DearMr./(Michael)Wang,</text><path class="u" d="M1177.3,2008.5H1283.7"/></g>
<g id="n7a2"><text x="1130.3" y="2077.5">(2)个人</text><path class="u" d="M1125.2,2082.4H1161.5"/></g>
<g id="n7a2a"><text x="1181.6" y="2040.3">A、关系不亲密</text><path class="u" d="M1177.3,2044.7H1241.2"/></g>
<g id="n7a2b"><text x="1181.6" y="2077.5">DearMr./,</text><path class="u" d="M1177.3,2082.4H1223"/></g>
<g id="n7a2c"><text x="1181.6" y="2114.6">B、关系亲密</text><path class="u" d="M1177.3,2119.5H1241.2"/></g>
<g id="n7a2c1"><text x="1252" y="2114.6">DearMichael,</text><path class="u" d="M1241.2,2119.5H1308.4"/></g>
<g id="n7b"><text x="1076" y="2151.7">2、正文</text><path class="u" d="M1066.6,2156.6H1110"/></g>
<g id="n7c"><text x="1076" y="2217">3、落款</text><path class="u" d="M1066.6,2222H1118.2"/></g>
<g id="n7c1"><text x="1130.3" y="2188.8">(1)祝福语</text><path class="u" d="M1125.2,2194.1H1180"/></g>
<g id="n7c1a"><text x="1189.7" y="2188.8">Best wishes!/The best regards!</text><path class="u" d="M1180,2194.1H1315"/></g>
<g id="n7c2"><text x="1130.3" y="2244.4">(2)签名</text><path class="u" d="M1125.2,2249.7H1168.7"/></g>
<g id="n7c2a"><text x="1181.6" y="2225.9">Yours sincerely,</text><path class="u" d="M1177.3,2230.7H1247"/></g>
<g id="n7c2b"><text x="1181.6" y="2263">LiMing</text><path class="u" d="M1177.3,2267.8H1212.5"/></g>

<!-- 第9篇 -->
<g id="n9a"><text x="1076" y="2300.1"><tspan x="1076">announcement [ə'naʊnsmənt] n.宣告;通告;</tspan><tspan x="1076" dy="10.75">布告;预告 复数： announcements</tspan></text><path class="u" d="M1071.5,2316H1247.4"/></g>
<g id="n9b"><text class="z" x="1076" y="2347.7"><tspan x="1076">商务信件大都采用齐头式的写法。6、 结束语</tspan><tspan x="1076" dy="10.75">（Complimentary Close）：在正文下面的</tspan><tspan x="1076" dy="10.75">一、二行处，从信纸的中间偏右处开始，第一</tspan><tspan x="1076" dy="10.75">个词开头要大写，句末用逗号。不同的对象，</tspan><tspan x="1076" dy="10.75">结束语的写法也不同。（1）写给家人、亲戚</tspan><tspan x="1076" dy="10.75">。</tspan></text><path class="u" d="M1071.5,2407H1247.4"/></g>
<g id="n9c"><text x="1076" y="2439.1"><tspan x="1076">colleague ['kɑli:g] n.同事;同行;同僚 复数：</tspan><tspan x="1076" dy="10.75">colleagues</tspan></text><path class="u" d="M1071.5,2454.6H1247.4"/></g>

<!-- 第11篇 -->
<g id="n11a"><text x="1082.2" y="2486.8">给彼得的一封信</text><path class="u" d="M1076.8,2491.7H1145"/></g>
<g id="n11b"><text x="1082.2" y="2523.9">Dear Peter,</text><path class="u" d="M1076.8,2528.8H1130.6"/></g>
<g id="n11c"><text x="1082.2" y="2560.5"><tspan x="1082.2">I'm glad to receive your  know you are</tspan><tspan x="1082.2" dy="10.75">planning to come to China by you last</tspan><tspan x="1082.2" dy="10.75">letter,so I want to invite you to visit the</tspan><tspan x="1082.2" dy="10.75">''agritainment''.</tspan></text><path class="u" d="M1076.8,2598.5H1253.9"/></g>
<g id="n11d"><text x="1082.2" y="2630.3"><tspan x="1082.2">"Agritainment'' is very popular in my</tspan><tspan x="1082.2" dy="10.75">hometown and I think it should be a</tspan><tspan x="1082.2" dy="10.75">must for you to experience after you  you</tspan><tspan x="1084.7" dy="10.75">can feel the truly countryside life and get</tspan><tspan x="1084.7" dy="10.75">closer to  are so many plants,such as</tspan><tspan x="1082.2" dy="10.75">flowers,trees and so  fresh air and clear</tspan><tspan x="1082.2" dy="10.75">river will make you comfortable and  you</tspan><tspan x="1082.2" dy="10.75">like,you also can go to the mountion to</tspan><tspan x="1082.2" dy="10.75">pick some fuits or wild vegetables by</tspan><tspan x="1082.2" dy="10.75">believe that eating the vegetables and</tspan><tspan x="1082.2" dy="10.75">food by yourself,it's a amusing feeling.</tspan></text><path class="u" d="M1076.8,2742.9H1253.9"/></g>
<g id="n11e"><text x="1082.2" y="2774.7"><tspan x="1082.2">I hope you can go to the agritainment</tspan><tspan x="1082.2" dy="10.75">with  am looking forward your coming.</tspan></text><path class="u" d="M1076.8,2790.7H1253.9"/></g>
<g id="n11f"><text x="1082.2" y="2822.5">Yours,</text><path class="u" d="M1076.8,2828.4H1111"/></g>
<g id="n11g"><text x="1082.2" y="2859.7">Li Hua</text><path class="u" d="M1076.8,2865.2H1111.5"/></g>

<!-- 第13篇 -->
<g id="n13a"><text x="1082.2" y="2896.5">Dear Tom,</text><path class="u" d="M1076.8,2902H1127.6"/></g>
<g id="n13b"><text x="1082.2" y="2933.8"><tspan x="1082.2">How are you doing? How time flies! I</tspan><tspan x="1082.2" dy="10.75">have been back to China for half a year. I</tspan><tspan x="1082.2" dy="10.75">miss you so much!</tspan></text><path class="u" d="M1076.8,2960.9H1253.9"/></g>
<g id="n13c"><text x="1082.2" y="2992.6"><tspan x="1082.2">Every time I catch sight of our photos</tspan><tspan x="1082.2" dy="10.75">taken in America, I can’  t help thinking</tspan><tspan x="1082.2" dy="10.75">of what you have done for me. It was so</tspan><tspan x="1082.2" dy="10.75">kind of you to help me with my spoken</tspan><tspan x="1082.2" dy="10.75">English. Besides, you made me master a</tspan><tspan x="1082.2" dy="10.75">lot of advanced English grammar, which</tspan><tspan x="1082.2" dy="10.75">really surprised me. What’  s more, I shall</tspan><tspan x="1084.7" dy="10.75">always remember you encouraged me to</tspan><tspan x="1084.7" dy="10.75">correct my pronunciation by enjoying</tspan><tspan x="1082.2" dy="10.75">American TV programs.</tspan></text><path class="u" d="M1076.8,3094.6H1253.9"/></g>
<g id="n13d"><text x="1082.2" y="3126.3"><tspan x="1082.2">By the way, Could you please tell me how</tspan><tspan x="1084.7" dy="10.75">can I get in touch with Mr. Smith? I have</tspan><tspan x="1082.2" dy="10.75">some learning problems to ask him.</tspan></text><path class="u" d="M1076.8,3153.4H1253.9"/></g>
<g id="n13e"><text x="1082.2" y="3185.2"><tspan x="1082.2">Besides, I know you are interested in the</tspan><tspan x="1082.2" dy="10.75">historical Chinese civilization. Why not</tspan><tspan x="1082.2" dy="10.75">come to China to enjoy the Spring</tspan><tspan x="1082.2" dy="10.75">festival? I promise you won’  t regret!</tspan></text><path class="u" d="M1076.8,3222.4H1253.9"/></g>
<g id="n13f"><text x="1082.2" y="3254.6">Looking forward to your reply!</text><path class="u" d="M1076.8,3259.6H1208.4"/></g>
<g id="n13g"><text x="1082.2" y="3291.4">Yours,</text><path class="u" d="M1076.8,3296.5H1111"/></g>
<g id="n13h"><text x="1082.2" y="3328.6">Li Hua</text><path class="u" d="M1076.8,3333.7H1111.5"/></g>
</svg>
